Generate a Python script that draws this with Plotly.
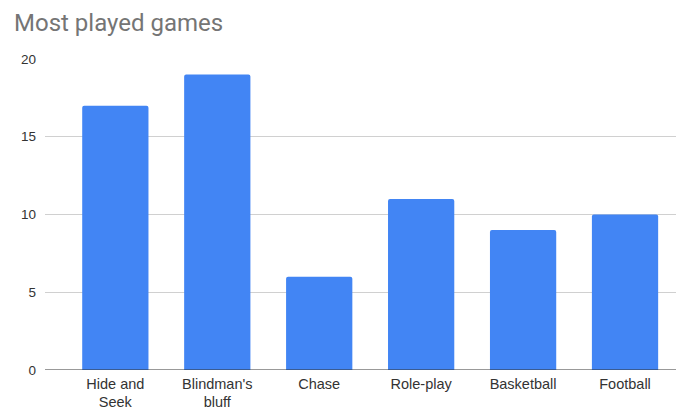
import plotly.graph_objects as go

categories = ["Hide and<br>Seek", "Blindman's<br>bluff", "Chase", "Role-play", "Basketball", "Football"]
values = [17, 19, 6, 11, 9, 10]
y_ticks = [0, 5, 10, 15, 20]

fig = go.Figure(go.Bar(
    x=list(range(len(categories))),
    y=values,
    marker=dict(color="#4285F4", cornerradius=2, line=dict(width=0)),
    width=0.65,
))

fig.update_layout(
    width=684, height=409,
    margin=dict(l=37, r=16, t=51, b=47),
    paper_bgcolor="white", plot_bgcolor="white",
    title=dict(text="Most played games", x=0, xref="container", xanchor="left",
               y=1, yref="container", yanchor="top", pad=dict(l=6, t=6),
               font=dict(family="Roboto, Arial", size=24, color="#757575")),
    showlegend=False,
    xaxis=dict(
        range=[-0.69, 5.5], automargin=False,
        tickmode="array", tickvals=list(range(len(categories))), ticktext=categories,
        showgrid=False, zeroline=False, showline=False, ticks="",
        tickfont=dict(family="Liberation Sans, Arial", size=14.5, color="#333333"),
        ticklabelstandoff=3,
    ),
    yaxis=dict(
        range=[0, 20], tickmode="array", tickvals=y_ticks, automargin=False,
        showgrid=True, gridcolor="#d0d0d0", gridwidth=1,
        zeroline=False, showline=False, ticks="",
        tickfont=dict(family="Liberation Sans, Arial", size=13.5, color="#333333"),
        ticklabelstandoff=8,
    ),
    shapes=[dict(type="line", xref="paper", yref="y", x0=0, x1=1, y0=0, y1=0,
                 line=dict(color="#333333", width=1))],
)

fig.write_html("out.html")
